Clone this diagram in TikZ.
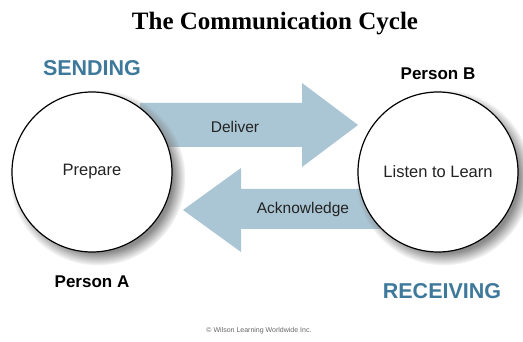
\documentclass[tikz,border=0pt]{standalone}
\usepackage{fontspec}
\setmainfont{Liberation Sans}
\newfontfamily\titlefont{Liberation Serif}
\usetikzlibrary{shadows}
\usetikzlibrary{positioning}
\definecolor{arrowblue}{RGB}{170,197,211}
\definecolor{phaseblue}{RGB}{62,121,155}
\definecolor{inktext}{RGB}{35,35,35}
\tikzstyle{person}=[circle,draw,line width=1.2pt,fill=white,minimum size=160pt,
  text=inktext,font=\fontsize{16.5}{18}\selectfont,
  circular drop shadow={shadow xshift=5pt,shadow yshift=-5pt,opacity=.9}]
\tikzstyle{who}=[font=\bfseries\fontsize{17}{19}\selectfont]
\tikzstyle{phase}=[text=phaseblue,font=\bfseries\fontsize{21.5}{23}\selectfont]
\tikzstyle{msg}=[text=inktext,font=\fontsize{15.5}{17}\selectfont]

\begin{document}
\begin{tikzpicture}[x=1pt,y=-1pt]
  \useasboundingbox (0,0) rectangle (523,342);
  \node [font=\titlefont\bfseries\fontsize{25}{28}\selectfont] (title) at (275,24) {The Communication Cycle};
  % block arrows, drawn under the circles
  \fill [arrowblue] (140,103) -- (302,103) -- (302,83) -- (358,125) -- (302,167)
    -- (302,147) -- (140,147) -- cycle;
  \fill [arrowblue] (400,189) -- (241,189) -- (241,168) -- (183,210) -- (241,252)
    -- (241,229) -- (400,229) -- cycle;
  \node [person] (prepare) at (92,172) {Prepare};
  \node [person] (listen) at (438,172) {Listen to Learn};
  \node [msg] (deliver) at (235,127) {Deliver};
  \node [msg] (ack) at (303,209) {Acknowledge};
  \node [phase] (sending) [above=12pt of prepare] {SENDING};
  \node [who] (persona) [below=20pt of prepare] {Person A};
  \node [who] (personb) [above=8pt of listen] {Person B};
  \node [phase] (receiving) [below=27pt of listen,xshift=4pt] {RECEIVING};
  \node [text=black!60,font=\fontsize{7}{8}\selectfont] (copy) at (259,331) {\copyright{} Wilson Learning Worldwide Inc.};
\end{tikzpicture}
\end{document}
